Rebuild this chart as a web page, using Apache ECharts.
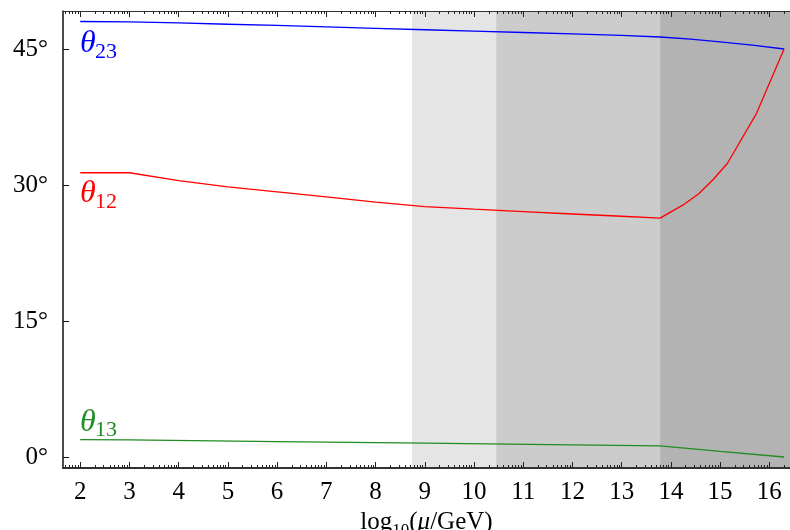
<!DOCTYPE html>
<html>
<head>
<meta charset="utf-8">
<script src="https://cdn.jsdelivr.net/npm/echarts@6/dist/echarts.min.js"></script>
<style>
html, body { margin: 0; padding: 0; background: #fff; }
#chart { width: 790px; height: 530px; }
</style>
</head>
<body>
<div id="chart"></div>
<script>
// mixing angles (degrees) vs log10(mu/GeV)
const x23 = [2, 3, 4, 5, 6, 7, 8, 9, 10, 11, 12, 13, 13.78, 14.4, 15.0, 15.7, 16.3];
const theta23 = [48.03, 48.0, 47.87, 47.73, 47.6, 47.45, 47.28, 47.12, 46.97, 46.82, 46.66, 46.5, 46.32, 46.08, 45.78, 45.4, 45.0];

const x12 = [2, 3, 4, 5, 6, 7, 8, 9, 10, 11, 12, 13, 13.78, 14.25, 14.56, 14.86, 15.15, 15.74, 16.3];
const theta12 = [31.35, 31.35, 30.48, 29.8, 29.25, 28.7, 28.12, 27.62, 27.33, 27.06, 26.8, 26.55, 26.35, 27.8, 29.0, 30.6, 32.4, 37.9, 45.0];

const x13 = [2, 3, 6, 9, 12, 13.78, 15, 16.3];
const theta13 = [1.92, 1.88, 1.7, 1.52, 1.33, 1.22, 0.62, 0.0];

// shaded energy ranges
const bandFrom = [8.74, 10.45, 13.78];
const bandTo = [10.45, 13.78, 16.42];
const bandColors = ["#e5e5e5", "#cccccc", "#b3b3b3"];

const xTicks = [2, 3, 4, 5, 6, 7, 8, 9, 10, 11, 12, 13, 14, 15, 16];
const yTicks = [0, 15, 30, 45];

const xMin = 1.65, xMax = 16.42;
const yMin = -1.215, yMax = 49.19;

// log-style minor ticks between integers
let minor = [];
for (let i = 1; i <= 16; i++) {
  for (let k = 2; k <= 9; k++) {
    let v = i + Math.log10(k);
    if (v > xMin && v < xMax) minor.push(v);
  }
}

const font = "'Liberation Serif', 'DejaVu Serif', serif";

function pairs(xs, ys) {
  return xs.map((x, i) => [x, ys[i]]);
}

let chart = echarts.init(document.getElementById("chart"));

function xAx(pos, ticks, len, showLine, showLabel) {
  return {
    type: "value",
    position: pos,
    min: xMin,
    max: xMax,
    z: 10,
    splitLine: { show: false },
    axisLine: { show: showLine, onZero: false, lineStyle: { color: "#333", width: pos === "bottom" ? 2 : 1 } },
    axisTick: { show: true, inside: true, length: len, customValues: ticks, lineStyle: { color: "#222", width: 1 } },
    axisLabel: {
      show: showLabel,
      customValues: ticks,
      color: "#000",
      fontFamily: font,
      fontSize: 25,
      margin: 12
    }
  };
}

let xAxes = [
  xAx("bottom", xTicks, 6, true, true),
  xAx("bottom", minor, 3, false, false),
  xAx("top", xTicks, 6, true, false),
  xAx("top", minor, 3, false, false)
];
xAxes[0].name = "{a|log}{b|10}{a|(}{c|μ}{a|/GeV)}";
xAxes[0].nameLocation = "middle";
xAxes[0].nameGap = 38;
xAxes[0].nameTextStyle = {
  color: "#000",
  fontFamily: font,
  rich: {
    a: { fontSize: 25, fontFamily: font, color: "#000" },
    b: { fontSize: 17, fontFamily: font, color: "#000", padding: [16, 0, 0, 0] },
    c: { fontSize: 25, fontFamily: font, fontStyle: "italic", color: "#000" }
  }
};

let option = {
  animation: false,
  backgroundColor: "#fff",
  grid: { left: 63, top: 11, right: 0, bottom: 62, containLabel: false, outerBoundsMode: "none" },
  xAxis: xAxes,
  yAxis: {
    type: "value",
    min: yMin,
    max: yMax,
    z: 10,
    splitLine: { show: false },
    axisLine: { show: true, onZero: false, lineStyle: { color: "#111", width: 1.5 } },
    axisTick: { show: true, inside: true, length: 6, customValues: yTicks, lineStyle: { color: "#111" } },
    axisLabel: {
      customValues: yTicks,
      formatter: "{value}°",
      color: "#000",
      fontFamily: font,
      fontSize: 25,
      margin: 15
    }
  },
  graphic: [
    { type: "text", left: 80, top: 28, style: { text: "θ", font: "italic 32px " + font, fill: "#0000ff" } },
    { type: "text", left: 95, top: 41, style: { text: "23", font: "22px " + font, fill: "#0000ff" } },
    { type: "text", left: 80, top: 178, style: { text: "θ", font: "italic 32px " + font, fill: "#ff0000" } },
    { type: "text", left: 95, top: 191, style: { text: "12", font: "22px " + font, fill: "#ff0000" } },
    { type: "text", left: 80, top: 407, style: { text: "θ", font: "italic 32px " + font, fill: "#228b22" } },
    { type: "text", left: 95, top: 419, style: { text: "13", font: "22px " + font, fill: "#228b22" } }
  ],
  series: [
    {
      name: "bands",
      type: "line",
      z: 1,
      data: [],
      silent: true,
      markArea: {
        silent: true,
        data: bandFrom.map((f, i) => [
          { xAxis: f, itemStyle: { color: bandColors[i] } },
          { xAxis: bandTo[i] }
        ])
      }
    },
    {
      name: "theta23",
      type: "line",
      z: 3,
      showSymbol: false,
      data: pairs(x23, theta23),
      lineStyle: { color: "#0000ff", width: 1.3 }
    },
    {
      name: "theta12",
      type: "line",
      z: 3,
      showSymbol: false,
      data: pairs(x12, theta12),
      lineStyle: { color: "#ff0000", width: 1.3 }
    },
    {
      name: "theta13",
      type: "line",
      z: 3,
      showSymbol: false,
      data: pairs(x13, theta13),
      lineStyle: { color: "#228b22", width: 1.3 }
    }
  ]
};

chart.setOption(option);
</script>
</body>
</html>
